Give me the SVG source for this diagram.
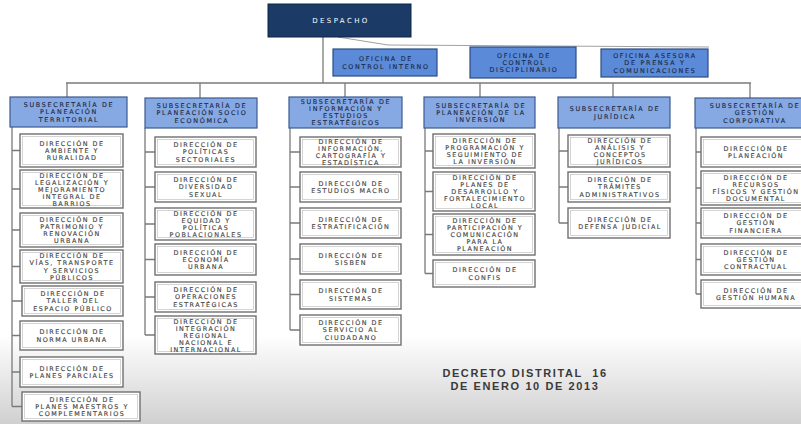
<svg xmlns="http://www.w3.org/2000/svg" width="801" height="424" viewBox="0 0 801 424">
<defs>
<linearGradient id="bg" x1="0" y1="0" x2="0" y2="1">
<stop offset="0" stop-color="#ffffff"/>
<stop offset="1" stop-color="#d0d0d0"/>
</linearGradient>
<style>
.dsp{fill:#1b3a66;stroke:#0f2545;stroke-width:1}
.ofi{fill:#5b8bd8;stroke:#2c4c85;stroke-width:1.2}
.hdr{fill:#87a9e3;stroke:#3b5a8e;stroke-width:1.2}
.box{fill:#ffffff;stroke:#6f6f6f;stroke-width:1.4}
.inb{fill:none;stroke:#b8b8b8;stroke-width:0.6}
.ln{stroke:#7a7a7a;stroke-width:1.3;fill:none}
.lt{stroke:#a0a0a0;stroke-width:1;fill:none}
text{font-family:"DejaVu Sans","Liberation Sans",sans-serif;text-anchor:middle}
.t{font-size:6.4px;fill:#3d3d3d;letter-spacing:1.5px;stroke:#555555;stroke-width:0.15}
.th{font-size:6.4px;fill:#1c2b4a;letter-spacing:1.7px;stroke:#1c2b4a;stroke-width:0.15}
.tw{font-size:7px;fill:#ffffff;letter-spacing:2.4px}
.dec{font-family:"Liberation Sans",sans-serif;font-size:11px;font-weight:bold;fill:#3a3a3a;letter-spacing:1.6px}
</style>
</defs>
<rect x="0" y="0" width="801" height="424" fill="#ffffff"/>
<rect x="0" y="335" width="801" height="89" fill="url(#bg)"/>

<g id="connectors">
<polyline class="lt" points="338,37 388,45 709,47"/>
<line class="ln" x1="323" y1="37" x2="323" y2="83"/>
<line class="ln" x1="66" y1="83" x2="751" y2="83"/>
<line class="ln" x1="67" y1="83" x2="67" y2="97"/>
<line class="ln" x1="200" y1="83" x2="200" y2="98"/>
<line class="ln" x1="345" y1="83" x2="345" y2="97"/>
<line class="ln" x1="480" y1="83" x2="480" y2="97"/>
<line class="ln" x1="613" y1="83" x2="613" y2="97"/>
<line class="ln" x1="750" y1="83" x2="750" y2="98"/>
<path class="ln" d="M12,127 V406.5 M12,150.5 H20 M12,189 H20 M12,230 H20 M12,266.5 H20 M12,301 H22 M12,335.5 H20 M12,372 H20 M12,406.5 H22"/>
<path class="ln" d="M145,128 V335 M145,152 H155 M145,187 H155 M145,224 H155 M145,259.5 H155 M145,297 H155 M145,335 H155"/>
<path class="ln" d="M290,128 V330 M290,152 H300 M290,187 H300 M290,223 H300 M290,259 H300 M290,294.5 H300 M290,330 H300"/>
<path class="ln" d="M425,128 V273.5 M425,151 H433 M425,191.5 H433 M425,234.5 H433 M425,273.5 H433"/>
<path class="ln" d="M559,128 V223 M559,151 H568 M559,187 H568 M559,223 H568"/>
<path class="ln" d="M696,128 V294 M696,152 H701 M696,188 H701 M696,223 H701 M696,259.5 H701 M696,294 H701"/>
</g>

<g id="despacho">
<rect class="dsp" x="268" y="4" width="143" height="33"/>
<text class="tw" x="341" y="23">DESPACHO</text>
</g>

<g id="oficina-control-interno">
<rect class="ofi" x="333" y="49" width="104" height="27"/>
<text class="th" x="386" y="61.3">OFICINA DE</text>
<text class="th" x="386" y="68.5">CONTROL INTERNO</text>
</g>
<g id="oficina-control-disciplinario">
<rect class="ofi" x="470" y="47" width="106" height="31"/>
<text class="th" x="524" y="57.7">OFICINA DE</text>
<text class="th" x="524" y="64.9">CONTROL</text>
<text class="th" x="524" y="72.1">DISCIPLINARIO</text>
</g>
<g id="oficina-prensa">
<rect class="ofi" x="601" y="49" width="107" height="28"/>
<text class="th" x="655" y="58.2">OFICINA ASESORA</text>
<text class="th" x="655" y="65.4">DE PRENSA Y</text>
<text class="th" x="655" y="72.6">COMUNICACIONES</text>
</g>

<g id="sub-planeacion-territorial">
<rect class="hdr" x="10" y="97" width="117" height="30"/>
<text class="th" x="69" y="107.2">SUBSECRETARÍA DE</text>
<text class="th" x="69" y="114.4">PLANEACIÓN</text>
<text class="th" x="69" y="121.6">TERRITORIAL</text>
</g>
<g id="dir-ambiente">
<rect class="box" x="20" y="134" width="103" height="33"/><rect class="inb" x="22.5" y="136.5" width="98" height="28"/>
<text class="t" x="72" y="145.7">DIRECCIÓN DE</text>
<text class="t" x="72" y="152.9">AMBIENTE Y</text>
<text class="t" x="72" y="160.1">RURALIDAD</text>
</g>
<g id="dir-legalizacion">
<rect class="box" x="20" y="170" width="103" height="38"/><rect class="inb" x="22.5" y="172.5" width="98" height="33"/>
<text class="t" x="72" y="177.6">DIRECCIÓN DE</text>
<text class="t" x="72" y="184.6">LEGALIZACIÓN Y</text>
<text class="t" x="72" y="191.6">MEJORAMIENTO</text>
<text class="t" x="72" y="198.6">INTEGRAL DE</text>
<text class="t" x="72" y="205.6">BARRIOS</text>
</g>
<g id="dir-patrimonio">
<rect class="box" x="20" y="213" width="103" height="34"/><rect class="inb" x="22.5" y="215.5" width="98" height="29"/>
<text class="t" x="72" y="221.6">DIRECCIÓN DE</text>
<text class="t" x="72" y="228.8">PATRIMONIO Y</text>
<text class="t" x="72" y="236">RENOVACIÓN</text>
<text class="t" x="72" y="243.2">URBANA</text>
</g>
<g id="dir-vias">
<rect class="box" x="20" y="250" width="103" height="33"/><rect class="inb" x="22.5" y="252.5" width="98" height="28"/>
<text class="t" x="72" y="258.1">DIRECCIÓN DE</text>
<text class="t" x="72" y="265.3">VÍAS, TRANSPORTE</text>
<text class="t" x="72" y="272.5">Y SERVICIOS</text>
<text class="t" x="72" y="279.7">PÚBLICOS</text>
</g>
<g id="dir-taller">
<rect class="box" x="22" y="286" width="101" height="30"/><rect class="inb" x="24.5" y="288.5" width="96" height="25"/>
<text class="t" x="73" y="296.2">DIRECCIÓN DE</text>
<text class="t" x="73" y="303.4">TALLER DEL</text>
<text class="t" x="73" y="310.6">ESPACIO PÚBLICO</text>
</g>
<g id="dir-norma">
<rect class="box" x="20" y="321" width="103" height="29"/><rect class="inb" x="22.5" y="323.5" width="98" height="24"/>
<text class="t" x="72" y="334.3">DIRECCIÓN DE</text>
<text class="t" x="72" y="341.5">NORMA URBANA</text>
</g>
<g id="dir-planes-parciales">
<rect class="box" x="20" y="357" width="103" height="30"/><rect class="inb" x="22.5" y="359.5" width="98" height="25"/>
<text class="t" x="72" y="370.8">DIRECCIÓN DE</text>
<text class="t" x="72" y="378">PLANES PARCIALES</text>
</g>
<g id="dir-planes-maestros">
<rect class="box" x="22" y="392" width="118" height="29"/><rect class="inb" x="24.5" y="394.5" width="113" height="24"/>
<text class="t" x="82" y="401.7">DIRECCIÓN DE</text>
<text class="t" x="82" y="408.9">PLANES MAESTROS Y</text>
<text class="t" x="82" y="416.1">COMPLEMENTARIOS</text>
</g>

<g id="sub-socioeconomica">
<rect class="hdr" x="145" y="98" width="112" height="30"/>
<text class="th" x="202" y="108.2">SUBSECRETARÍA DE</text>
<text class="th" x="202" y="115.4">PLANEACIÓN SOCIO</text>
<text class="th" x="202" y="122.6">ECONÓMICA</text>
</g>
<g id="dir-politicas-sectoriales">
<rect class="box" x="155" y="137" width="101" height="30"/><rect class="inb" x="157.5" y="139.5" width="96" height="25"/>
<text class="t" x="206" y="147.2">DIRECCIÓN DE</text>
<text class="t" x="206" y="154.4">POLÍTICAS</text>
<text class="t" x="206" y="161.6">SECTORIALES</text>
</g>
<g id="dir-diversidad">
<rect class="box" x="155" y="172" width="101" height="30"/><rect class="inb" x="157.5" y="174.5" width="96" height="25"/>
<text class="t" x="206" y="182.2">DIRECCIÓN DE</text>
<text class="t" x="206" y="189.4">DIVERSIDAD</text>
<text class="t" x="206" y="196.6">SEXUAL</text>
</g>
<g id="dir-equidad">
<rect class="box" x="155" y="208" width="101" height="32"/><rect class="inb" x="157.5" y="210.5" width="96" height="27"/>
<text class="t" x="206" y="215.6">DIRECCIÓN DE</text>
<text class="t" x="206" y="222.8">EQUIDAD Y</text>
<text class="t" x="206" y="230">POLÍTICAS</text>
<text class="t" x="206" y="237.2">POBLACIONALES</text>
</g>
<g id="dir-economia">
<rect class="box" x="155" y="244" width="101" height="31"/><rect class="inb" x="157.5" y="246.5" width="96" height="26"/>
<text class="t" x="206" y="254.7">DIRECCIÓN DE</text>
<text class="t" x="206" y="261.9">ECONOMÍA</text>
<text class="t" x="206" y="269.1">URBANA</text>
</g>
<g id="dir-operaciones">
<rect class="box" x="155" y="282" width="101" height="30"/><rect class="inb" x="157.5" y="284.5" width="96" height="25"/>
<text class="t" x="206" y="292.2">DIRECCIÓN DE</text>
<text class="t" x="206" y="299.4">OPERACIONES</text>
<text class="t" x="206" y="306.6">ESTRATÉGICAS</text>
</g>
<g id="dir-integracion">
<rect class="box" x="155" y="316" width="101" height="38"/><rect class="inb" x="157.5" y="318.5" width="96" height="33"/>
<text class="t" x="206" y="323.6">DIRECCIÓN DE</text>
<text class="t" x="206" y="330.6">INTEGRACIÓN</text>
<text class="t" x="206" y="337.6">REGIONAL</text>
<text class="t" x="206" y="344.6">NACIONAL E</text>
<text class="t" x="206" y="351.6">INTERNACIONAL</text>
</g>

<g id="sub-informacion">
<rect class="hdr" x="289" y="97" width="113" height="31"/>
<text class="th" x="346" y="104.3">SUBSECRETARÍA DE</text>
<text class="th" x="346" y="111.3">INFORMACIÓN Y</text>
<text class="th" x="346" y="118.3">ESTUDIOS</text>
<text class="th" x="346" y="125.3">ESTRATÉGICOS</text>
</g>
<g id="dir-informacion">
<rect class="box" x="300" y="137" width="101" height="30"/><rect class="inb" x="302.5" y="139.5" width="96" height="25"/>
<text class="t" x="351" y="143.9">DIRECCIÓN DE</text>
<text class="t" x="351" y="150.9">INFORMACIÓN,</text>
<text class="t" x="351" y="157.9">CARTOGRAFÍA Y</text>
<text class="t" x="351" y="164.9">ESTADÍSTICA</text>
</g>
<g id="dir-estudios-macro">
<rect class="box" x="300" y="172" width="101" height="30"/><rect class="inb" x="302.5" y="174.5" width="96" height="25"/>
<text class="t" x="351" y="185.8">DIRECCIÓN DE</text>
<text class="t" x="351" y="193">ESTUDIOS MACRO</text>
</g>
<g id="dir-estratificacion">
<rect class="box" x="300" y="208" width="101" height="30"/><rect class="inb" x="302.5" y="210.5" width="96" height="25"/>
<text class="t" x="351" y="221.8">DIRECCIÓN DE</text>
<text class="t" x="351" y="229">ESTRATIFICACIÓN</text>
</g>
<g id="dir-sisben">
<rect class="box" x="300" y="244" width="101" height="30"/><rect class="inb" x="302.5" y="246.5" width="96" height="25"/>
<text class="t" x="351" y="257.8">DIRECCIÓN DE</text>
<text class="t" x="351" y="265">SISBEN</text>
</g>
<g id="dir-sistemas">
<rect class="box" x="300" y="280" width="101" height="29"/><rect class="inb" x="302.5" y="282.5" width="96" height="24"/>
<text class="t" x="351" y="293.3">DIRECCIÓN DE</text>
<text class="t" x="351" y="300.5">SISTEMAS</text>
</g>
<g id="dir-servicio">
<rect class="box" x="300" y="315" width="101" height="30"/><rect class="inb" x="302.5" y="317.5" width="96" height="25"/>
<text class="t" x="351" y="325.2">DIRECCIÓN DE</text>
<text class="t" x="351" y="332.4">SERVICIO AL</text>
<text class="t" x="351" y="339.6">CIUDADANO</text>
</g>

<g id="sub-inversion">
<rect class="hdr" x="424" y="97" width="111" height="31"/>
<text class="th" x="481" y="107.7">SUBSECRETARÍA DE</text>
<text class="th" x="481" y="114.9">PLANEACIÓN DE LA</text>
<text class="th" x="481" y="122.1">INVERSIÓN</text>
</g>
<g id="dir-programacion">
<rect class="box" x="433" y="134" width="102" height="34"/><rect class="inb" x="435.5" y="136.5" width="97" height="29"/>
<text class="t" x="485" y="142.6">DIRECCIÓN DE</text>
<text class="t" x="485" y="149.8">PROGRAMACIÓN Y</text>
<text class="t" x="485" y="157">SEGUIMIENTO DE</text>
<text class="t" x="485" y="164.2">LA INVERSIÓN</text>
</g>
<g id="dir-planes-desarrollo">
<rect class="box" x="433" y="172" width="102" height="39"/><rect class="inb" x="435.5" y="174.5" width="97" height="34"/>
<text class="t" x="485" y="179.9">DIRECCIÓN DE</text>
<text class="t" x="485" y="186.9">PLANES DE</text>
<text class="t" x="485" y="193.9">DESARROLLO Y</text>
<text class="t" x="485" y="200.9">FORTALECIMIENTO</text>
<text class="t" x="485" y="207.9">LOCAL</text>
</g>
<g id="dir-participacion">
<rect class="box" x="433" y="214" width="102" height="41"/><rect class="inb" x="435.5" y="216.5" width="97" height="36"/>
<text class="t" x="485" y="222.5">DIRECCIÓN DE</text>
<text class="t" x="485" y="229.7">PARTICIPACIÓN Y</text>
<text class="t" x="485" y="236.9">COMUNICACIÓN</text>
<text class="t" x="485" y="244.1">PARA LA</text>
<text class="t" x="485" y="251.3">PLANEACIÓN</text>
</g>
<g id="dir-confis">
<rect class="box" x="433" y="260" width="102" height="27"/><rect class="inb" x="435.5" y="262.5" width="97" height="22"/>
<text class="t" x="485" y="272.3">DIRECCIÓN DE</text>
<text class="t" x="485" y="279.5">CONFIS</text>
</g>

<g id="sub-juridica">
<rect class="hdr" x="558" y="97" width="112" height="31"/>
<text class="th" x="615" y="111.3">SUBSECRETARÍA DE</text>
<text class="th" x="615" y="118.5">JURÍDICA</text>
</g>
<g id="dir-analisis">
<rect class="box" x="568" y="135" width="102" height="32"/><rect class="inb" x="570.5" y="137.5" width="97" height="27"/>
<text class="t" x="620" y="142.6">DIRECCIÓN DE</text>
<text class="t" x="620" y="149.8">ANÁLISIS Y</text>
<text class="t" x="620" y="157">CONCEPTOS</text>
<text class="t" x="620" y="164.2">JURÍDICOS</text>
</g>
<g id="dir-tramites">
<rect class="box" x="568" y="172" width="102" height="30"/><rect class="inb" x="570.5" y="174.5" width="97" height="25"/>
<text class="t" x="620" y="182.2">DIRECCIÓN DE</text>
<text class="t" x="620" y="189.4">TRÁMITES</text>
<text class="t" x="620" y="196.6">ADMINISTRATIVOS</text>
</g>
<g id="dir-defensa">
<rect class="box" x="568" y="208" width="102" height="30"/><rect class="inb" x="570.5" y="210.5" width="97" height="25"/>
<text class="t" x="620" y="221.8">DIRECCIÓN DE</text>
<text class="t" x="620" y="229">DEFENSA JUDICIAL</text>
</g>

<g id="sub-gestion-corporativa">
<rect class="hdr" x="695" y="98" width="118" height="30"/>
<text class="th" x="755" y="108.2">SUBSECRETARÍA DE</text>
<text class="th" x="755" y="115.4">GESTIÓN</text>
<text class="th" x="755" y="122.6">CORPORATIVA</text>
</g>
<g id="dir-planeacion">
<rect class="box" x="701" y="137" width="112" height="30"/><rect class="inb" x="703.5" y="139.5" width="107" height="25"/>
<text class="t" x="756" y="150.8">DIRECCIÓN DE</text>
<text class="t" x="756" y="158">PLANEACIÓN</text>
</g>
<g id="dir-recursos">
<rect class="box" x="701" y="171" width="112" height="34"/><rect class="inb" x="703.5" y="173.5" width="107" height="29"/>
<text class="t" x="756" y="179.6">DIRECCIÓN DE</text>
<text class="t" x="756" y="186.8">RECURSOS</text>
<text class="t" x="756" y="194">FÍSICOS Y GESTIÓN</text>
<text class="t" x="756" y="201.2">DOCUMENTAL</text>
</g>
<g id="dir-financiera">
<rect class="box" x="701" y="208" width="112" height="30"/><rect class="inb" x="703.5" y="210.5" width="107" height="25"/>
<text class="t" x="756" y="218.2">DIRECCIÓN DE</text>
<text class="t" x="756" y="225.4">GESTIÓN</text>
<text class="t" x="756" y="232.6">FINANCIERA</text>
</g>
<g id="dir-contractual">
<rect class="box" x="701" y="244" width="112" height="31"/><rect class="inb" x="703.5" y="246.5" width="107" height="26"/>
<text class="t" x="756" y="254.7">DIRECCIÓN DE</text>
<text class="t" x="756" y="261.9">GESTIÓN</text>
<text class="t" x="756" y="269.1">CONTRACTUAL</text>
</g>
<g id="dir-humana">
<rect class="box" x="701" y="280" width="112" height="28"/><rect class="inb" x="703.5" y="282.5" width="107" height="23"/>
<text class="t" x="756" y="292.8">DIRECCIÓN DE</text>
<text class="t" x="756" y="300">GESTIÓN HUMANA</text>
</g>

<g id="decreto">
<text class="dec" x="525" y="377">DECRETO DISTRITAL&#160; 16</text>
<text class="dec" x="525" y="390">DE ENERO 10 DE 2013</text>
</g>
</svg>
